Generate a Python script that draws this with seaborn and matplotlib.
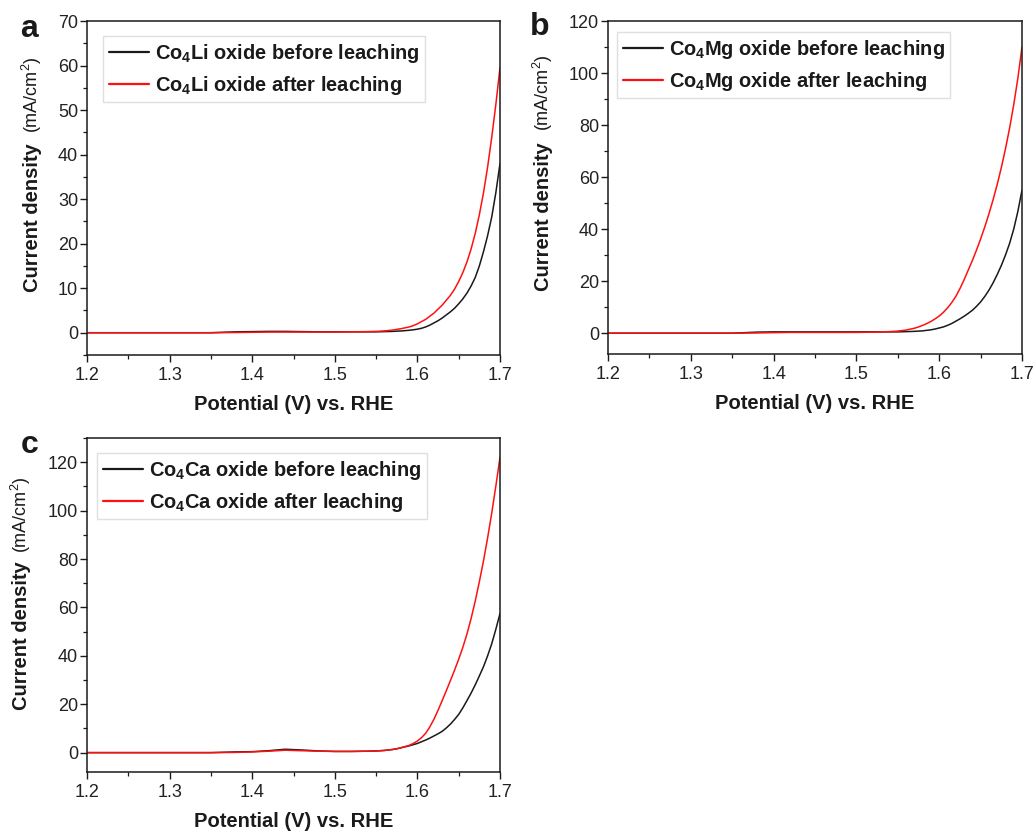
import matplotlib
matplotlib.use("Agg")
import matplotlib.pyplot as plt
from matplotlib.ticker import MultipleLocator, AutoMinorLocator
import seaborn as sns
import pandas as pd

# Polarization curves (current density in mA/cm^2 vs. potential in V vs. RHE)
potential = [1.20, 1.25, 1.30, 1.35, 1.38, 1.40, 1.42, 1.44, 1.46, 1.48, 1.50, 1.52,
             1.54, 1.55, 1.56, 1.57, 1.575, 1.58, 1.585, 1.59, 1.595,
             1.600, 1.605, 1.610, 1.615, 1.620, 1.625, 1.630, 1.635, 1.640, 1.645,
             1.650, 1.655, 1.660, 1.665, 1.670, 1.675, 1.680, 1.685, 1.690, 1.695,
             1.700]

li_before = [0.0, 0.0, 0.0, 0.0, 0.2, 0.25, 0.3, 0.3, 0.25, 0.2, 0.2, 0.2,
             0.2, 0.2, 0.25, 0.3, 0.35, 0.4, 0.47, 0.55, 0.66,
             0.8, 1.0, 1.3, 1.7, 2.2, 2.7, 3.3, 4.0, 4.7, 5.5,
             6.5, 7.6, 8.9, 10.5, 12.4, 15.0, 18.2, 21.8, 26.0, 31.5,
             38.0]
li_after = [0.0, 0.0, 0.0, 0.0, 0.05, 0.1, 0.15, 0.15, 0.15, 0.15, 0.15, 0.2,
            0.25, 0.3, 0.4, 0.6, 0.75, 0.9, 1.1, 1.3, 1.6,
            2.0, 2.5, 3.0, 3.7, 4.4, 5.3, 6.2, 7.3, 8.4, 9.8,
            11.5, 13.5, 15.9, 18.8, 22.3, 26.5, 31.4, 37.2, 43.9, 51.3,
            59.5]

mg_before = [0.0, 0.0, 0.0, 0.0, 0.4, 0.5, 0.5, 0.5, 0.5, 0.5, 0.5, 0.5,
             0.5, 0.5, 0.6, 0.7, 0.8, 0.9, 1.1, 1.3, 1.6,
             2.0, 2.4, 3.0, 3.7, 4.6, 5.5, 6.5, 7.6, 8.8, 10.3,
             12.0, 14.1, 16.5, 19.3, 22.5, 26.0, 30.0, 34.5, 40.0, 46.8,
             55.0]
mg_after = [0.0, 0.0, 0.0, 0.0, 0.1, 0.2, 0.3, 0.3, 0.3, 0.3, 0.3, 0.4,
            0.6, 0.8, 1.2, 1.9, 2.4, 3.0, 3.7, 4.5, 5.5,
            6.6, 8.0, 9.7, 11.7, 14.1, 17.1, 20.5, 24.2, 27.9, 31.9,
            36.2, 40.8, 45.8, 51.2, 57.1, 63.6, 70.8, 78.8, 87.8, 98.0,
            110.0]

ca_before = [0.0, 0.0, 0.0, 0.0, 0.3, 0.4, 0.8, 1.4, 1.1, 0.7, 0.5, 0.5,
             0.6, 0.7, 0.9, 1.3, 1.6, 2.0, 2.4, 2.8, 3.3,
             3.8, 4.5, 5.2, 6.0, 6.9, 7.8, 8.8, 10.2, 11.8, 13.7,
             15.8, 18.5, 21.5, 24.6, 28.0, 31.7, 35.5, 40.0, 45.0, 51.0,
             57.5]
ca_after = [0.0, 0.0, 0.0, 0.0, 0.1, 0.3, 0.6, 1.0, 0.8, 0.6, 0.5, 0.5,
            0.6, 0.7, 0.9, 1.3, 1.6, 2.0, 2.5, 3.0, 3.8,
            4.8, 6.2, 8.0, 10.6, 13.8, 17.5, 21.5, 25.6, 29.8, 34.1,
            38.6, 43.5, 49.0, 55.4, 62.6, 70.6, 79.2, 88.7, 99.0, 110.2,
            122.0]

panels = [
    ("a", "Li", li_before, li_after, (-5, 70), 10),
    ("b", "Mg", mg_before, mg_after, (-8, 120), 20),
    ("c", "Ca", ca_before, ca_after, (-8, 130), 20),
]

sns.set_style("ticks")
plt.rcParams["font.family"] = ["Liberation Sans", "DejaVu Sans"]
plt.rcParams["mathtext.fontset"] = "custom"
plt.rcParams["mathtext.rm"] = "Liberation Sans"
plt.rcParams["mathtext.bf"] = "Liberation Sans:bold"

fig = plt.figure(figsize=(10.33, 8.32), dpi=100)
W, H = 1033, 832

# axes boxes in pixels: left, top, right, bottom
boxes = {"a": (87, 21, 500, 355), "b": (608, 21, 1022, 354), "c": (87, 438, 500, 772)}
legend_anchor = {"a": (16, 15), "b": (9, 11), "c": (10, 15)}
ylab_x = {"a": 37.5, "b": 549, "c": 27}
ylab_y = {"a": (0.412, 0.778), "b": (0.412, 0.785), "c": (0.407, 0.769)}
letter_xy = {"a": (20, 37), "b": (530, 35), "c": (21, 453)}

ink = "#1a1a1a"
for tag, elem, before, after, ylim, ystep in panels:
    l, t, r, b = boxes[tag]
    ax = fig.add_axes([l / W, 1 - b / H, (r - l) / W, (b - t) / H])
    lab_before = f"Co$_\\mathbf{{4}}${elem} oxide before leaching"
    lab_after = f"Co$_\\mathbf{{4}}${elem} oxide after leaching"
    df = pd.DataFrame({
        "Potential": potential * 2,
        "Current": before + after,
        "Sample": [lab_before] * len(before) + [lab_after] * len(after),
    })
    sns.lineplot(data=df, x="Potential", y="Current", hue="Sample",
                 palette=[ink, "#ff1010"], estimator=None, sort=True,
                 linewidth=1.1, ax=ax)

    ax.set_xlim(1.2, 1.7)
    ax.set_ylim(*ylim)
    ax.xaxis.set_major_locator(MultipleLocator(0.1))
    ax.xaxis.set_minor_locator(AutoMinorLocator(2))
    ax.yaxis.set_major_locator(MultipleLocator(ystep))
    ax.yaxis.set_minor_locator(AutoMinorLocator(2))
    ax.tick_params(which="major", direction="out", length=5, width=1.0,
                   color=ink, labelsize=13, labelcolor="#222222")
    ax.tick_params(axis="y", which="major", pad=1.5)
    ax.tick_params(axis="x", which="major", pad=3.5)
    ax.tick_params(which="minor", direction="out", length=3, width=0.9, color=ink)
    ax.tick_params(top=False, right=False, which="both")
    for sp in ax.spines.values():
        sp.set_visible(True)
        sp.set_color(ink)
        sp.set_linewidth(1.1)

    ax.set_xlabel("Potential (V) vs. RHE", fontsize=14.5, fontweight="bold",
                  color=ink, labelpad=8)
    ax.set_ylabel("")
    fx = (ylab_x[tag] - l) / (r - l)
    y1, y2 = ylab_y[tag]
    ax.text(fx, y1, "Current density", transform=ax.transAxes, rotation=90,
            rotation_mode="anchor", ha="center", va="baseline",
            fontsize=14.5, fontweight="bold", color=ink)
    ax.text(fx, y2, "(mA/cm$^2$)", transform=ax.transAxes, rotation=90,
            rotation_mode="anchor", ha="center", va="baseline",
            fontsize=13, color=ink)

    dx, dy = legend_anchor[tag]
    leg = ax.legend(loc="upper left",
                    bbox_to_anchor=(dx / (r - l), 1 - dy / (b - t)),
                    borderaxespad=0, frameon=True, fancybox=False,
                    prop={"weight": "bold", "size": 14.4},
                    handlelength=2.0, handletextpad=0.3, labelspacing=0.45,
                    borderpad=0.28, title=None)
    leg.get_frame().set_edgecolor("#d8d8d8")
    leg.get_frame().set_linewidth(1.0)
    for line in leg.get_lines():
        line.set_linewidth(1.6)
    for txt in leg.get_texts():
        txt.set_color(ink)

    lx, ly = letter_xy[tag]
    fig.text(lx / W, 1 - ly / H, tag, fontsize=23, fontweight="bold",
             color=ink, ha="left", va="baseline")

fig.savefig("out.png", dpi=100)
